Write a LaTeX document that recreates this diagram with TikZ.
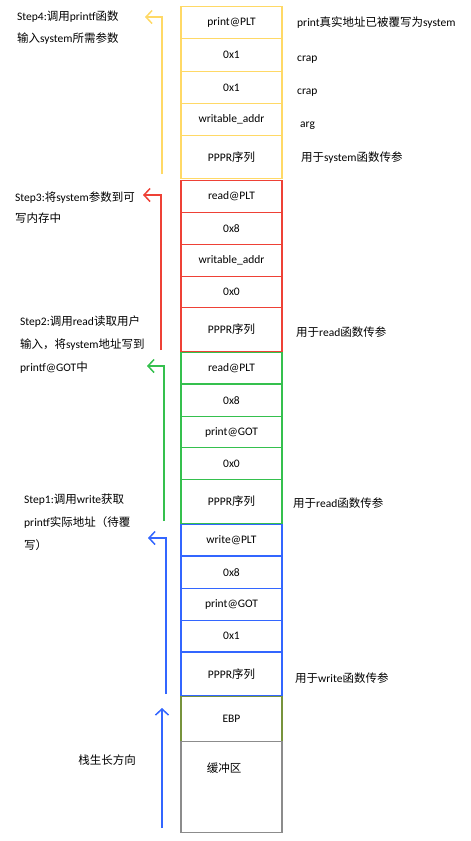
\documentclass[tikz,border=0pt]{standalone}
\usepackage{fontspec}
\setmainfont{Carlito}
\newfontfamily\cjkfont{Noto Sans CJK SC}
\newcommand\zh[1]{{\cjkfont #1}}
\usetikzlibrary{arrows.meta}
\definecolor{ropyellow}{HTML}{FFD966}
\definecolor{ropred}{HTML}{EE4136}
\definecolor{ropgreen}{HTML}{35C04E}
\definecolor{ropblue}{HTML}{3366FF}
\definecolor{ebpgreen}{HTML}{77933C}
\definecolor{bufgray}{HTML}{8C8C8C}
\begin{document}
\begin{tikzpicture}[x=1pt,y=-1pt,every node/.style={font=\fontsize{11.5}{22}\selectfont,inner sep=0pt},
  slot/.style={draw=#1,line width=1.1pt,minimum width=101pt,anchor=north},
  steparrow/.style={draw=#1,line width=1.5pt,-{Straight Barb[length=6pt,width=13pt,line width=1.5pt]}},
  note/.style={anchor=base west,align=left}]
  \useasboundingbox (0,0) rectangle (471,841);
  % stack slots, top to bottom
  \foreach \n/\t/\b/\lab/\col in {y0/6/38/print@PLT/ropyellow, y1/38/71/0x1/ropyellow, y2/71/103/0x1/ropyellow,
      y3/103/135/writable\_addr/ropyellow, y4/135/178/PPPR\zh{序列}/ropyellow,
      r0/180/212/read@PLT/ropred, r1/212/244/0x8/ropred, r2/244/276/writable\_addr/ropred,
      r3/276/307/0x0/ropred, r4/307/351/PPPR\zh{序列}/ropred,
      g0/352/383/read@PLT/ropgreen, g1/384/416/0x8/ropgreen, g2/416/447/print@GOT/ropgreen,
      g3/447/479/0x0/ropgreen, g4/479/523/PPPR\zh{序列}/ropgreen,
      b0/524/555/write@PLT/ropblue, b1/556/588/0x8/ropblue, b2/588/620/print@GOT/ropblue,
      b3/620/651/0x1/ropblue, b4/652/695/PPPR\zh{序列}/ropblue,
      ebp/696/741/EBP/ebpgreen} {
    \node[slot=\col,minimum height={\b pt-\t pt}] (\n) at (231.5,\t) {\lab};
  }
  \node[slot=bufgray,minimum height=91pt] (buf) at (231.5,741) {};
  \node (buftxt) at (224,768) {\zh{缓冲区}};
  % call arrows
  \foreach \k/\col/\x/\bot/\top/\tip in {4/ropyellow/162/174/17/145, 3/ropred/161/350/195/143,
      2/ropgreen/164/521/366/147, 1/ropblue/166/694/538/148} {
    \coordinate (from\k) at (\x,\bot);
    \coordinate (to\k) at (\tip,\top);
    \draw[steparrow=\col] (from\k) |- (to\k);
  }
  \coordinate (growfrom) at (162,828);
  \coordinate (growto) at (162,708);
  \draw[steparrow=ropblue] (growfrom) -- (growto);
  \node (grow) at (107,760) {\zh{栈生长方向}};
  % step texts
  \node[note,font=\fontsize{11.5}{22}\selectfont] (step4) at (17,42) {Step4:\zh{调用}printf\zh{函数}\\\zh{输入}system\zh{所需参数}};
  \node[note,font=\fontsize{11.5}{21}\selectfont] (step3) at (15,222) {Step3:\zh{将}system\zh{参数到可}\\\zh{写内存中}};
  \node[note,font=\fontsize{11.5}{23}\selectfont] (step2) at (20,371) {Step2:\zh{调用}read\zh{读取用户}\\\zh{输入，将}system\zh{地址写到}\\printf@GOT\zh{中}};
  \node[note,font=\fontsize{11.5}{23}\selectfont] (step1) at (24,549) {Step1:\zh{调用}write\zh{获取}\\printf\zh{实际地址（待覆}\\\zh{写）}};
  % right side notes
  \node[note] (n-plt) at (297,26) {print\zh{真实地址已被覆写为}system};
  \node[note] (n-crap1) at (297,61) {crap};
  \node[note] (n-crap2) at (297,94) {crap};
  \node[note] (n-arg) at (300,127) {arg};
  \node[note] (n-sys) at (301,161) {\zh{用于}system\zh{函数传参}};
  \node[note] (n-read1) at (296,336) {\zh{用于}read\zh{函数传参}};
  \node[note] (n-read2) at (293,507) {\zh{用于}read\zh{函数传参}};
  \node[note] (n-write) at (295,682) {\zh{用于}write\zh{函数传参}};
\end{tikzpicture}
\end{document}
